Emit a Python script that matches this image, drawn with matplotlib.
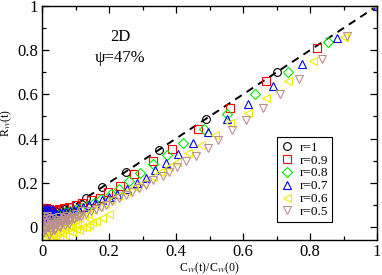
import matplotlib
matplotlib.use('Agg')
import matplotlib.pyplot as plt
from matplotlib.ticker import MultipleLocator

plt.rcParams['font.family'] = ['Liberation Serif', 'DejaVu Serif']
plt.rcParams['mathtext.fontset'] = 'stix'

# r = 1 (circles)
x_r10 = [1.0, 0.70, 0.49, 0.35, 0.25, 0.18, 0.13, 0.10, 0.083, 0.065, 0.05, 0.04, 0.03, 0.022, 0.015, 0.01]
y_r10 = [1.0, 0.70, 0.49, 0.35, 0.25, 0.18, 0.13, 0.10, 0.09, 0.08, 0.075, 0.07, 0.068, 0.066, 0.065, 0.065]

# r = 0.9 (squares)
x_r09 = [1.0, 0.82, 0.67, 0.56, 0.466, 0.388, 0.33, 0.275, 0.233, 0.197, 0.173, 0.145, 0.12, 0.10,
         0.08, 0.065, 0.05, 0.04, 0.03, 0.022, 0.016, 0.012, 0.008, 0.005, 0.003, 0.01, 0.005, 0.015, 0.02,
         0.003, 0.006, 0.009, 0.012, 0.018, 0.004]
y_r09 = [1.0, 0.81, 0.66, 0.54, 0.443, 0.353, 0.30, 0.24, 0.186, 0.16, 0.13, 0.12, 0.11, 0.10,
         0.09, 0.085, 0.08, 0.075, 0.07, 0.068, 0.065, 0.06, 0.058, 0.055, 0.05, 0.075, 0.07, 0.045, 0.08,
         0.08, 0.085, 0.05, 0.085, 0.07, 0.065]

# r = 0.8 (diamonds)
x_r08 = [1.0, 0.854, 0.734, 0.636, 0.552, 0.484, 0.42, 0.373, 0.33, 0.293, 0.26, 0.23, 0.206, 0.176,
         0.155, 0.135, 0.115, 0.098, 0.083, 0.07, 0.058, 0.047, 0.038, 0.03, 0.023, 0.017, 0.012, 0.008, 0.005]
y_r08 = [1.0, 0.837, 0.70, 0.60, 0.51, 0.443, 0.38, 0.326, 0.285, 0.244, 0.208, 0.17, 0.15, 0.127,
         0.11, 0.095, 0.085, 0.075, 0.07, 0.065, 0.06, 0.055, 0.05, 0.045, 0.04, 0.03, 0.02, 0.0, -0.02]

# r = 0.7 (up triangles)
x_r07 = [1.0, 0.88, 0.776, 0.69, 0.615, 0.552, 0.495, 0.45, 0.406, 0.37, 0.337, 0.31, 0.284, 0.254,
         0.224, 0.20, 0.178, 0.158, 0.14, 0.123, 0.108, 0.095, 0.083, 0.072, 0.062, 0.053, 0.045,
         0.038, 0.032, 0.026, 0.021, 0.017, 0.013, 0.01, 0.007, 0.005,
         0.003, 0.006, 0.009, 0.012, 0.015, 0.018, 0.022, 0.026, 0.03, 0.004, 0.008, 0.035]
y_r07 = [1.0, 0.855, 0.737, 0.64, 0.557, 0.49, 0.43, 0.38, 0.33, 0.29, 0.258, 0.22, 0.20, 0.17,
         0.15, 0.135, 0.12, 0.11, 0.10, 0.09, 0.085, 0.078, 0.072, 0.068, 0.065, 0.062, 0.06,
         0.058, 0.06, 0.065, 0.07, 0.075, 0.07, 0.06, 0.04, 0.03,
         0.05, 0.07, 0.08, 0.055, 0.085, 0.06, 0.08, 0.05, 0.075, 0.025, 0.035, 0.07]

# r = 0.6 (left triangles)
x_r06 = [1.0, 0.90, 0.81, 0.734, 0.67, 0.615, 0.56, 0.516, 0.475, 0.436, 0.403, 0.38, 0.352, 0.33,
         0.30, 0.275, 0.25, 0.228, 0.207, 0.188, 0.17, 0.153, 0.138, 0.124, 0.111, 0.099, 0.088,
         0.078, 0.069, 0.06, 0.052, 0.045, 0.038, 0.032, 0.026, 0.021, 0.016, 0.012, 0.008, 0.005,
         0.005, 0.01, 0.015, 0.02, 0.03, 0.04, 0.05, 0.06, 0.07, 0.08, 0.09, 0.1, 0.11, 0.12, 0.13,
         0.14, 0.15, 0.16, 0.18, 0.2, 0.025, 0.045, 0.065, 0.085, 0.105]
y_r06 = [1.0, 0.86, 0.75, 0.66, 0.584, 0.516, 0.47, 0.416, 0.37, 0.335, 0.294, 0.27, 0.25, 0.226,
         0.20, 0.18, 0.16, 0.14, 0.12, 0.105, 0.09, 0.075, 0.06, 0.05, 0.04, 0.03, 0.02,
         0.01, 0.0, -0.01, -0.02, -0.03, -0.035, -0.04, -0.035, -0.03, -0.02, -0.01, 0.0, 0.01,
         -0.045, -0.05, -0.03, -0.045, -0.05, -0.04, -0.045, -0.03, -0.035, -0.02, -0.025, -0.01, -0.015, 0.0, 0.0,
         0.01, 0.02, 0.025, 0.04, 0.06, -0.02, -0.01, -0.01, 0.0, 0.01]

# r = 0.5 (down triangles)
x_r05 = [1.0, 0.91, 0.836, 0.767, 0.71, 0.66, 0.61, 0.567, 0.525, 0.495, 0.46, 0.43, 0.403, 0.38,
         0.36, 0.33, 0.31, 0.29, 0.27, 0.25, 0.23, 0.21, 0.19, 0.175, 0.16, 0.145, 0.13, 0.117,
         0.105, 0.094, 0.083, 0.073, 0.064, 0.056, 0.048, 0.041, 0.034, 0.028, 0.022, 0.017,
         0.012, 0.008, 0.005,
         0.003, 0.006, 0.01, 0.014, 0.018, 0.022, 0.026, 0.03, 0.035, 0.04, 0.045, 0.05, 0.055,
         0.06, 0.065, 0.07, 0.075, 0.08, 0.09, 0.1, 0.11, 0.12, 0.004, 0.009, 0.013, 0.02, 0.028,
         0.036, 0.044, 0.052, 0.06, 0.07, 0.08, 0.095]
y_r05 = [1.0, 0.864, 0.76, 0.67, 0.60, 0.54, 0.484, 0.44, 0.394, 0.357, 0.32, 0.30, 0.27, 0.25,
         0.23, 0.21, 0.19, 0.175, 0.16, 0.145, 0.13, 0.115, 0.10, 0.09, 0.08, 0.07, 0.06, 0.05,
         0.045, 0.04, 0.035, 0.03, 0.025, 0.02, 0.02, 0.015, 0.01, 0.01, 0.005, 0.0,
         0.0, -0.01, -0.01,
         0.03, 0.045, 0.02, 0.05, 0.0, 0.035, -0.02, 0.04, 0.01, -0.01, 0.03, 0.045, 0.0,
         0.02, 0.04, 0.01, 0.05, 0.03, 0.045, 0.06, 0.05, 0.07, -0.03, -0.01, 0.035, -0.035, 0.015,
         -0.015, 0.02, 0.005, 0.03, 0.025, 0.015, 0.035]

series = [
    (x_r10, y_r10, 'o', 'black', 'r=1'),
    (x_r09, y_r09, 's', 'red', 'r=0.9'),
    (x_r08, y_r08, 'D', '#00ee00', 'r=0.8'),
    (x_r07, y_r07, '^', 'blue', 'r=0.7'),
    (x_r06, y_r06, '<', '#eeee00', 'r=0.6'),
    (x_r05, y_r05, 'v', '#bc8f8f', 'r=0.5'),
]

fig = plt.figure(figsize=(3.82, 2.75), dpi=100)
ax = fig.add_axes([0.110, 0.127, 0.877, 0.851])

ax.plot([0, 1], [0, 1], color='black', ls=(0, (4, 3)), lw=1.4, zorder=1)

for xs, ys, m, c, lab in series:
    ms = 4.6 if m == 'D' else 5.6
    ax.plot(xs, ys, ls='none', marker=m, ms=ms, mfc='none', mec=c, mew=0.8, label=lab)

ax.set_xlim(0, 1)
ax.set_ylim(-0.06, 1)
ax.xaxis.set_minor_locator(MultipleLocator(0.1))
ax.yaxis.set_minor_locator(MultipleLocator(0.1))
ax.set_xticks([0, 0.2, 0.4, 0.6, 0.8, 1])
ax.set_xticklabels(['0', '0.2', '0.4', '0.6', '0.8', '1'])
ax.set_yticks([0, 0.2, 0.4, 0.6, 0.8, 1])
ax.set_yticklabels(['0', '0.2', '0.4', '0.6', '0.8', '1'])
ax.tick_params(which='both', direction='in', top=True, right=True, labelsize=12, pad=3)
ax.tick_params(which='major', length=5, width=0.9)
ax.tick_params(which='minor', length=3, width=0.9)
for s in ax.spines.values():
    s.set_linewidth(1.0)

ax.set_xlabel('C$_{vv}$(t)/C$_{vv}$(0)', fontsize=8.5, labelpad=0)
ax.set_ylabel('R$_{vv}$(t)', fontsize=8.5, labelpad=2)

ax.text(0.233, 0.86, '2D', ha='center', va='center', fontsize=12)
ax.text(0.233, 0.765, 'ψ=47%', ha='center', va='center', fontsize=12)

leg = ax.legend(loc='lower left', bbox_to_anchor=(0.70, 0.077), fontsize=9.5, frameon=True,
                fancybox=False, edgecolor='black', framealpha=1, handlelength=1.0,
                handletextpad=0.45, labelspacing=0.05, borderpad=0.3, borderaxespad=0)
leg.get_frame().set_linewidth(0.8)

plt.savefig('out.png', dpi=100)
